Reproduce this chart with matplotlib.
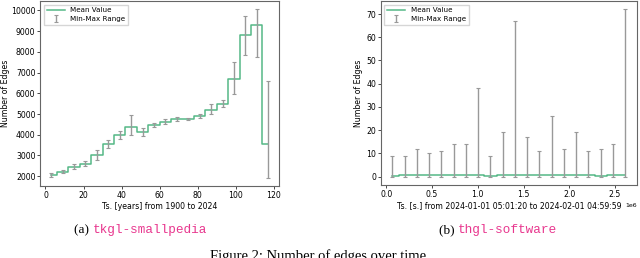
import matplotlib.pyplot as plt
import numpy as np

# tkgl-smallpedia: bins in years since 1900
years = [3, 9, 15, 21, 27, 33, 39, 45, 51, 57, 63, 69, 75, 81, 87, 93, 99, 105, 111, 117]
sp_mean = [2050, 2200, 2420, 2600, 3000, 3550, 4000, 4350, 4150, 4450,
           4620, 4750, 4750, 4900, 5200, 5500, 6700, 8820, 9300, 3570]
sp_min = [1950, 2130, 2330, 2480, 2800, 3380, 3800, 3980, 3930, 4350,
          4520, 4650, 4700, 4820, 5020, 5330, 5970, 7840, 7750, 1930]
sp_max = [2150, 2300, 2580, 2750, 3250, 3750, 4200, 4940, 4330, 4570,
          4780, 4850, 4800, 5000, 5480, 5700, 7520, 9750, 10050, 6580]

# thgl-software: bins in seconds
secs = [0.067e6, 0.201e6, 0.335e6, 0.469e6, 0.603e6, 0.736e6, 0.870e6, 1.004e6, 1.138e6, 1.272e6,
        1.406e6, 1.540e6, 1.674e6, 1.808e6, 1.942e6, 2.076e6, 2.210e6, 2.343e6, 2.477e6, 2.611e6]
sw_mean = [0.3, 0.6, 0.7, 0.5, 0.6, 0.8, 0.9, 0.6, 0.3, 0.7,
           0.8, 0.8, 0.5, 0.6, 0.9, 0.9, 0.6, 0.3, 0.6, 0.6]
sw_min = [0] * 20
sw_max = [9, 9, 12, 10, 11, 14, 14, 38, 9, 19, 67, 17, 11, 26, 12, 19, 11, 12, 14, 72]

green = '#55b886'
grey = '#999999'
pink = '#e8378e'
fs = 5.6

plt.rcParams['font.family'] = 'DejaVu Sans'
fig = plt.figure(figsize=(6.4, 2.58), dpi=100)

def panel(ax, x, mean, lo, hi, xlabel, ypad):
    mean = np.array(mean)
    yerr = [mean - np.array(lo), np.array(hi) - mean]
    ax.plot(x, mean, drawstyle='steps-mid', color=green, lw=1.1, label='Mean Value')
    ax.errorbar(x, mean, yerr=yerr, fmt='none', ecolor=grey, elinewidth=1,
                capsize=1.5, capthick=0.8, label='Min-Max Range')
    ax.set_xlabel(xlabel, fontsize=fs, labelpad=1.5)
    ax.set_ylabel('Number of Edges', fontsize=fs, labelpad=ypad)
    ax.tick_params(labelsize=fs, length=2, width=0.5, pad=1.5)
    ax.xaxis.get_offset_text().set_fontsize(fs * 0.8)
    for s in ax.spines.values():
        s.set_color('#666666')
        s.set_linewidth(0.8)
    ax.legend(loc='upper left', fontsize=fs * 0.92, frameon=True, handlelength=2.5,
              borderpad=0.4, labelspacing=0.4, fancybox=False, edgecolor='#cccccc')

ax1 = fig.add_axes([0.063, 0.279, 0.373, 0.717])
panel(ax1, years, sp_mean, sp_min, sp_max, 'Ts. [years] from 1900 to 2024', 0.8)

ax2 = fig.add_axes([0.595, 0.283, 0.400, 0.713])
panel(ax2, secs, sw_mean, sw_min, sw_max, 'Ts. [s.] from 2024-01-01 05:01:20 to 2024-02-01 04:59:59', 2)

# subfigure captions
fig.text(0.145, 0.108, '(a) ', ha='right', va='center', fontsize=9.5, family='Liberation Serif')
fig.text(0.145, 0.108, 'tkgl-smallpedia', ha='left', va='center', fontsize=9.2,
         family='Liberation Mono', color=pink)
fig.text(0.716, 0.108, '(b) ', ha='right', va='center', fontsize=9.5, family='Liberation Serif')
fig.text(0.716, 0.108, 'thgl-software', ha='left', va='center', fontsize=9.2,
         family='Liberation Mono', color=pink)
fig.text(0.5, -0.02, 'Figure 2: Number of edges over time.', ha='center', va='bottom',
         fontsize=10.5, family='Liberation Serif')

fig.savefig('out.png', dpi=100)
